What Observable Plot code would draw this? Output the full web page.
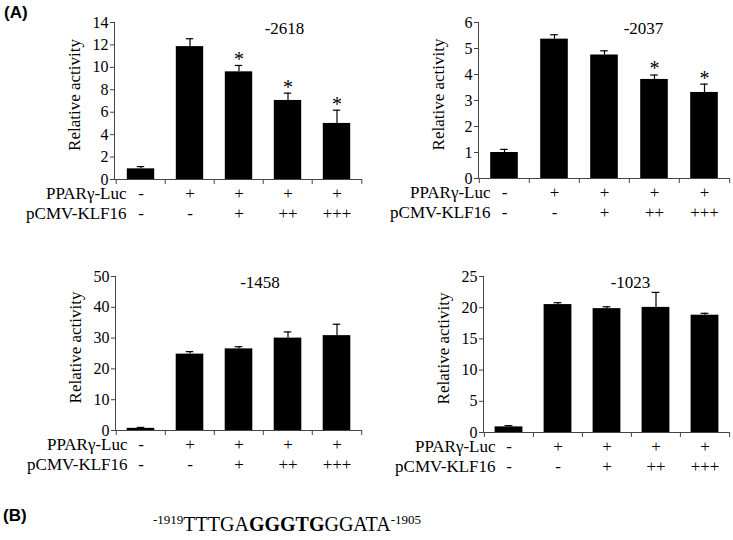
<!DOCTYPE html>
<html><head><meta charset="utf-8">
<script src="https://cdn.jsdelivr.net/npm/d3@7"></script>
<script src="https://cdn.jsdelivr.net/npm/@observablehq/plot@0.6"></script>
<style>
body{margin:0;background:#fff;}
#fig{position:relative;width:733px;height:540px;background:#fff;overflow:hidden;font-family:"Liberation Serif",serif;color:#000;}
#fig svg{position:absolute;}
#fig svg text{font-family:"Liberation Serif",serif !important;}
.tag{position:absolute;font-family:"Liberation Sans",Arial,sans-serif;font-weight:bold;font-size:17px;line-height:1;}
.seq{position:absolute;font-family:"Liberation Serif",serif;font-size:20px;line-height:1;white-space:nowrap;}
.seq sup{font-size:13px;vertical-align:7px;line-height:0;}
</style></head><body><div id="fig"></div>
<script>
// Conditions (bars) and the +/- table beneath each panel
const conditions = ["c1", "c2", "c3", "c4", "c5"];
const pparLuc = ["-", "+", "+", "+", "+"];
const klf16 = ["-", "-", "+", "++", "+++"];
const rowLabels = ["PPARγ-Luc", "pCMV-KLF16"];

// Panel titles (promoter deletion constructs)
const promoters = ["-2618", "-2037", "-1458", "-1023"];

// Relative activity (mean) and error (SD)
const act2618 = [0.95, 11.85, 9.6, 7.05, 5.0];
const err2618 = [0.2, 0.7, 0.57, 0.65, 1.18];
const sig2618 = [false, false, true, true, true];

const act2037 = [1.0, 5.36, 4.75, 3.81, 3.31];
const err2037 = [0.12, 0.17, 0.16, 0.17, 0.32];
const sig2037 = [false, false, false, true, true];

const act1458 = [0.7, 24.8, 26.5, 30.0, 30.8];
const err1458 = [0.3, 0.8, 0.7, 2.0, 3.7];
const sig1458 = [false, false, false, false, false];

const act1023 = [0.9, 20.5, 19.85, 20.05, 18.8];
const err1023 = [0.2, 0.3, 0.3, 2.4, 0.3];
const sig1023 = [false, false, false, false, false];

// Y tick labels
const ticks2618 = [0, 2, 4, 6, 8, 10, 12, 14];
const ticks2037 = [0, 1, 2, 3, 4, 5, 6];
const ticks1458 = [0, 10, 20, 30, 40, 50];
const ticks1023 = [0, 5, 10, 15, 20, 25];

const yLabel = "Relative activity";

// Layout (pixels)
const layout = [
  {left: 0,   top: 0,   width: 366, height: 240, ml: 114, mr: 4, mt: 22, mb: 61, titleDx: 46},
  {left: 366, top: 0,   width: 367, height: 240, ml: 112, mr: 3, mt: 22, mb: 62, titleDx: 39},
  {left: 0,   top: 254, width: 366, height: 240, ml: 115, mr: 4, mt: 22, mb: 64, titleDx: 21},
  {left: 366, top: 254, width: 367, height: 240, ml: 117, mr: 4, mt: 22, mb: 62, titleDx: 24}
];

const panels = [
  {title: promoters[0], values: act2618, errors: err2618, sig: sig2618, ticks: ticks2618},
  {title: promoters[1], values: act2037, errors: err2037, sig: sig2037, ticks: ticks2037},
  {title: promoters[2], values: act1458, errors: err1458, sig: sig1458, ticks: ticks1458},
  {title: promoters[3], values: act1023, errors: err1023, sig: sig1023, ticks: ticks1023}
];

const fig = document.getElementById("fig");
const font = "Liberation Serif";
const fs = 17;
const axisColor = "#444";

function drawPanel(p, L) {
  const data = conditions.map((c, i) => ({
    c, v: p.values[i], top: p.values[i] + p.errors[i], s: p.sig[i], luc: pparLuc[i], klf: klf16[i]
  }));
  const step = (L.width - L.ml - L.mr) / conditions.length;
  const barW = 28, capW = 8;
  const T = {fontFamily: font, fontSize: fs, fill: "#000"};
  const svg = Plot.plot({
    width: L.width, height: L.height,
    marginLeft: L.ml, marginRight: L.mr, marginTop: L.mt, marginBottom: L.mb,
    style: {fontFamily: font, fontSize: fs + "px", color: "#000", background: "transparent", overflow: "visible"},
    x: {domain: conditions, padding: 0, axis: null},
    y: {domain: [0, p.ticks[p.ticks.length - 1]], axis: null},
    marks: [
      Plot.barY(data, {x: "c", y: "v", fill: "#000", insetLeft: (step - barW) / 2, insetRight: (step - barW) / 2}),
      Plot.ruleX(data, {x: "c", y1: "v", y2: "top", stroke: "#000", strokeWidth: 1.2}),
      Plot.tickY(data, {x: "c", y: "top", stroke: "#000", strokeWidth: 1.2, insetLeft: (step - capW) / 2, insetRight: (step - capW) / 2}),
      Plot.text(data.filter(d => d.s), {x: "c", y: "top", text: () => "*", dy: -6, fontFamily: font, fontSize: 20}),
      Plot.frame({anchor: "left", stroke: axisColor}),
      Plot.ruleY([0], {stroke: axisColor}),
      Plot.axisY({ticks: p.ticks, tickSize: 4, tickPadding: 2, tickFormat: d => String(d), label: null, stroke: axisColor, fill: "#000", fontFamily: font, fontSize: 16}),
      Plot.axisX({tickSize: 5, tickFormat: () => "", label: null, dx: -step / 2, stroke: axisColor}),
      Plot.axisX({ticks: [conditions[conditions.length - 1]], tickSize: 5, tickFormat: () => "", label: null, dx: step / 2, stroke: axisColor}),
      Plot.text([p.title], {...T, frameAnchor: "top", dx: L.titleDx, dy: -1, lineAnchor: "top"}),
      Plot.text([yLabel], {...T, frameAnchor: "left", textAnchor: "middle", rotate: -90, dx: -40, dy: -6}),
      Plot.text([rowLabels[0]], {...T, frameAnchor: "bottom-left", dx: 12, dy: 19, textAnchor: "end"}),
      Plot.text([rowLabels[1]], {...T, frameAnchor: "bottom-left", dx: 12, dy: 39, textAnchor: "end"}),
      Plot.text(data, {...T, x: "c", text: "luc", frameAnchor: "bottom", dy: 19}),
      Plot.text(data, {...T, x: "c", text: "klf", frameAnchor: "bottom", dy: 39})
    ]
  });
  svg.style.left = L.left + "px";
  svg.style.top = L.top + "px";
  fig.appendChild(svg);
}

panels.forEach((p, i) => drawPanel(p, layout[i]));

function addDiv(cls, html, left, top) {
  const d = document.createElement("div");
  d.className = cls;
  d.innerHTML = html;
  d.style.left = left + "px";
  d.style.top = top + "px";
  fig.appendChild(d);
}
addDiv("tag", "(A)", 4, 4);
addDiv("tag", "(B)", 3, 507);
addDiv("seq", "<sup>-1919</sup>TTTGA<b>GGGTG</b>GGATA<sup>-1905</sup>", 153, 514);
</script>
</body></html>
